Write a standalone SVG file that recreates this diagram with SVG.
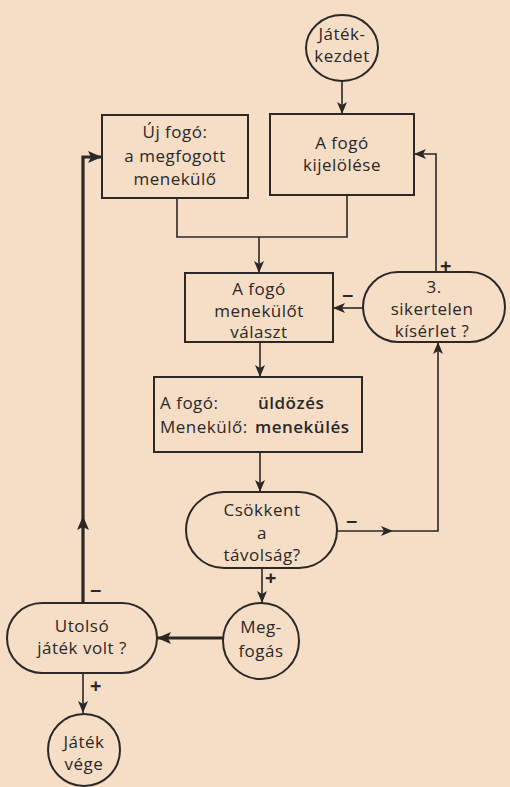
<svg xmlns="http://www.w3.org/2000/svg" width="510" height="787" viewBox="0 0 510 787">
<defs>
<style>
.bg{fill:#f5ddc6}
.n{fill:none;stroke:#2b2826;stroke-width:2}
.c{fill:none;stroke:#2b2826;stroke-width:1.6}
.t{stroke:#2b2826;stroke-width:3.2;fill:none}
text{font-family:"Open Sans","DejaVu Sans",sans-serif;font-size:17px;fill:#2b2826;text-anchor:middle;letter-spacing:0.5px}
.l{font-size:17px}
.s{text-anchor:start}
.b{font-weight:600}
.g{font-size:20px;font-weight:700}
</style>
<marker id="a" viewBox="0 0 12 10" refX="12" refY="5" markerWidth="12" markerHeight="10" markerUnits="userSpaceOnUse" orient="auto"><path d="M0,0 L12,5 L0,10 L3,5 Z" fill="#2b2826"/></marker>
<marker id="m" viewBox="0 0 12 10" refX="6" refY="5" markerWidth="12" markerHeight="10" markerUnits="userSpaceOnUse" orient="auto"><path d="M0,0 L12,5 L0,10 L3,5 Z" fill="#2b2826"/></marker>
<marker id="ab" viewBox="0 0 14 12" refX="14" refY="6" markerWidth="14" markerHeight="12" markerUnits="userSpaceOnUse" orient="auto"><path d="M0,0 L14,6 L0,12 L3,6 Z" fill="#2b2826"/></marker>
<marker id="mb" viewBox="0 0 14 12" refX="7" refY="6" markerWidth="14" markerHeight="12" markerUnits="userSpaceOnUse" orient="auto"><path d="M0,0 L14,6 L0,12 L3,6 Z" fill="#2b2826"/></marker>
</defs>
<rect class="bg" x="0" y="0" width="510" height="787"/>
<g id="connectors">
<line class="c" x1="342" y1="81" x2="342" y2="114" marker-end="url(#a)"/>
<polyline class="c" points="177,198 177,237 347,237 347,195"/>
<line class="c" x1="259" y1="237" x2="259" y2="273" marker-end="url(#a)"/>
<line class="c" x1="363" y1="308" x2="333" y2="308" marker-end="url(#a)"/>
<polyline class="c" points="436,272 436,154 414,154" marker-end="url(#a)"/>
<line class="c" x1="260" y1="342" x2="260" y2="377" marker-end="url(#a)"/>
<line class="c" x1="260" y1="452" x2="260" y2="492" marker-end="url(#a)"/>
<polyline class="c" points="337,531 387,531" marker-end="url(#m)"/>
<polyline class="c" points="385,531 438,531 438,342" marker-end="url(#a)"/>
<line class="c" x1="262" y1="568" x2="262" y2="603" marker-end="url(#a)"/>
<line class="t" x1="223" y1="638" x2="157" y2="638" marker-end="url(#ab)"/>
<polyline class="t" points="83,603 83,523" marker-end="url(#mb)"/>
<polyline class="t" points="83,525 83,157 102,157" marker-end="url(#ab)"/>
<line class="c" x1="83" y1="673" x2="83" y2="713" marker-end="url(#a)"/>
<text x="446" y="273" class="g">+</text>
<text x="348" y="303" class="g">−</text>
<text x="352" y="529" class="g">−</text>
<text x="271" y="585" class="g">+</text>
<text x="96" y="598" class="g">−</text>
<text x="96" y="693" class="g">+</text>
</g>
<g id="start">
<ellipse class="n" cx="342" cy="48" rx="36" ry="33"/>
<text x="342" y="40">Játék-</text>
<text x="342" y="62">kezdet</text>
</g>
<g id="ujfogo">
<rect class="n" x="102" y="115" width="146" height="83"/>
<text x="175" y="138" class="l">Új fogó:</text>
<text x="175" y="162" class="l">a megfogott</text>
<text x="175" y="185" class="l">menekülő</text>
</g>
<g id="kijeloles">
<rect class="n" x="270" y="114" width="144" height="81"/>
<text x="342" y="149" class="l">A fogó</text>
<text x="342" y="171" class="l">kijelölése</text>
</g>
<g id="valaszt">
<rect class="n" x="185" y="273" width="148" height="69"/>
<text x="259" y="295" class="l">A fogó</text>
<text x="259" y="317" class="l">menekülőt</text>
<text x="259" y="338" class="l">választ</text>
</g>
<g id="sikertelen">
<rect class="n" x="363" y="272" width="142" height="70" rx="35" ry="35"/>
<text x="434" y="293" class="l">3.</text>
<text x="432" y="315" class="l">sikertelen</text>
<text x="432" y="337" class="l">kísérlet ?</text>
</g>
<g id="uldozes">
<rect class="n" x="154" y="377" width="208" height="75"/>
<text x="160" y="409" class="l s">A fogó:</text>
<text x="258" y="409" class="l s b">üldözés</text>
<text x="160" y="433" class="l s">Menekülő:</text>
<text x="255" y="433" class="l s b">menekülés</text>
</g>
<g id="csokkent">
<rect class="n" x="186" y="492" width="151" height="76" rx="38" ry="38"/>
<text x="262" y="516" class="l">Csökkent</text>
<text x="262" y="539" class="l">a</text>
<text x="262" y="561" class="l">távolság?</text>
</g>
<g id="megfogas">
<circle class="n" cx="261" cy="641" r="38"/>
<text x="261" y="633" class="l">Meg-</text>
<text x="261" y="657" class="l">fogás</text>
</g>
<g id="utolso">
<rect class="n" x="7" y="603" width="150" height="70" rx="35" ry="35"/>
<text x="82" y="632" class="l">Utolsó</text>
<text x="82" y="654" class="l">játék volt ?</text>
</g>
<g id="vege">
<circle class="n" cx="84" cy="750" r="36"/>
<text x="84" y="748" class="l">Játék</text>
<text x="84" y="770" class="l">vége</text>
</g>
</svg>
